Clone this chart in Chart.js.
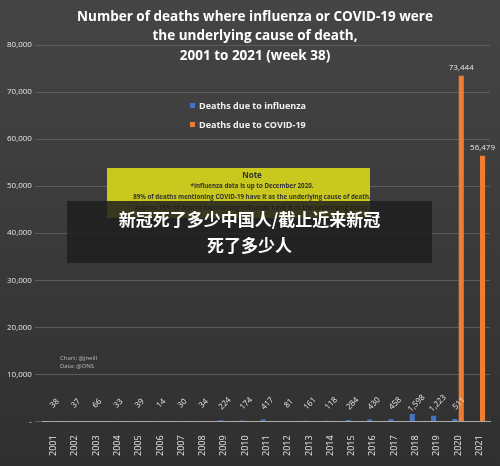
<!DOCTYPE html>
<html>
<head>
<meta charset="utf-8">
<script src="https://cdn.jsdelivr.net/npm/chart.js@4"></script>
<style>
  body { margin: 0; background: #3a3a3a; }
  #wrap { position: relative; width: 500px; height: 466px; background: linear-gradient(#454545, #303030); }
  #overlay { position: absolute; left: 67px; top: 201px; width: 365px; height: 62px; background: rgba(30,30,30,0.85);
    color: #fff; font: bold 17px "Noto Sans CJK SC"; text-align: center; line-height: 26px; padding-top: 5px; box-sizing: border-box; }
</style>
</head>
<body>
<div id="wrap">
  <canvas id="c" width="500" height="466"></canvas>
  <div id="overlay">新冠死了多少中国人/截止近来新冠<br>死了多少人</div>
</div>
<script>
const years = ['2001','2002','2003','2004','2005','2006','2007','2008','2009','2010','2011','2012','2013','2014','2015','2016','2017','2018','2019','2020','2021'];
const influenza = [38, 37, 66, 33, 39, 14, 30, 34, 224, 174, 417, 81, 161, 118, 284, 430, 458, 1598, 1223, 511, null];
const covid = [null, null, null, null, null, null, null, null, null, null, null, null, null, null, null, null, null, null, null, 73444, 56479];
const titleLines = ['Number of deaths where influenza or COVID-19 were', 'the underlying cause of death,', '2001 to 2021 (week 38)'];

const fmt = v => v.toLocaleString('en-US');

const extras = {
  id: 'extras',
  afterDatasetsDraw(chart) {
    const ctx = chart.ctx, x = chart.scales.x, y = chart.scales.y;
    ctx.save();
    // title
    ctx.fillStyle = '#ffffff'; ctx.font = 'bold 13.5px "Open Sans"';
    ctx.textAlign = 'center'; ctx.textBaseline = 'middle';
    titleLines.forEach((t, i) => ctx.fillText(t, 255, 17 + i * 19.5));

    ctx.fillStyle = '#e6e6e6';
    ctx.font = '8px "Open Sans"';
    influenza.forEach((v, i) => {
      if (v == null) return;
      const px = x.getPixelForValue(i) + 1, py = y.getPixelForValue(0) - 18;
      ctx.save(); ctx.translate(px, py); ctx.rotate(-Math.PI / 4);
      ctx.textAlign = 'center'; ctx.textBaseline = 'middle';
      ctx.fillText(fmt(v), 0, 0); ctx.restore();
    });
    const meta = chart.getDatasetMeta(1);
    covid.forEach((v, i) => {
      if (v == null) return;
      const bar = meta.data[i];
      ctx.textAlign = 'center'; ctx.textBaseline = 'bottom';
      ctx.fillText(fmt(v), bar.x, bar.y - 4);
    });
    // legend
    ctx.font = 'bold 9px "Open Sans"'; ctx.textAlign = 'left'; ctx.textBaseline = 'middle';
    ctx.fillStyle = '#4472c4'; ctx.fillRect(190, 103, 5, 5);
    ctx.fillStyle = '#ed7d31'; ctx.fillRect(190, 122, 5, 5);
    ctx.fillStyle = '#f0f0f0';
    ctx.fillText('Deaths due to influenza', 199, 106);
    ctx.fillText('Deaths due to COVID-19', 199, 125);
    // note box
    ctx.fillStyle = '#c8c81e'; ctx.fillRect(107, 168, 263, 50);
    ctx.fillStyle = '#333'; ctx.textAlign = 'center';
    ctx.font = 'bold 8px "Open Sans"'; ctx.fillText('Note', 252, 176);
    ctx.font = 'bold 6.2px "Open Sans"';
    ctx.fillText('*Influenza data is up to December 2020.', 252, 186);
    ctx.fillText('89% of deaths mentioning COVID-19 have it as the underlying cause of death.', 252, 197);
    ctx.fillText('Approx 15% of deaths mentioning influenza have it as the underlying cause.', 252, 208);
    ctx.fillStyle = '#bbb'; ctx.font = '6px "Open Sans"'; ctx.textAlign = 'left';
    ctx.fillText('Chart: @jneill', 60, 358);
    ctx.fillText('Data: @ONS', 60, 366);
    ctx.restore();
  }
};

new Chart(document.getElementById('c'), {
  type: 'bar',
  data: {
    labels: years,
    datasets: [
      { label: 'Deaths due to influenza', data: influenza, backgroundColor: '#4472c4', categoryPercentage: 0.6, barPercentage: 0.8 },
      { label: 'Deaths due to COVID-19', data: covid, backgroundColor: '#ed7d31', categoryPercentage: 0.6, barPercentage: 0.8 }
    ]
  },
  options: {
    responsive: false, animation: false,
    layout: { padding: { left: 4, right: 10, top: 45, bottom: 4 } },
    plugins: { legend: { display: false }, tooltip: { enabled: false } },
    scales: {
      x: {
        grid: { display: false },
        border: { color: '#aaa' },
        ticks: { color: '#e6e6e6', font: { family: 'Open Sans', size: 9 }, maxRotation: 90, minRotation: 90, padding: 6 }
      },
      y: {
        min: 0, max: 80000,
        grid: { color: '#5c5c5c' },
        border: { display: false },
        ticks: { stepSize: 10000, color: '#e6e6e6', font: { family: 'Open Sans', size: 8 }, callback: v => v === 0 ? '-' : fmt(v) }
      }
    }
  },
  plugins: [extras]
});
</script>
</body>
</html>
